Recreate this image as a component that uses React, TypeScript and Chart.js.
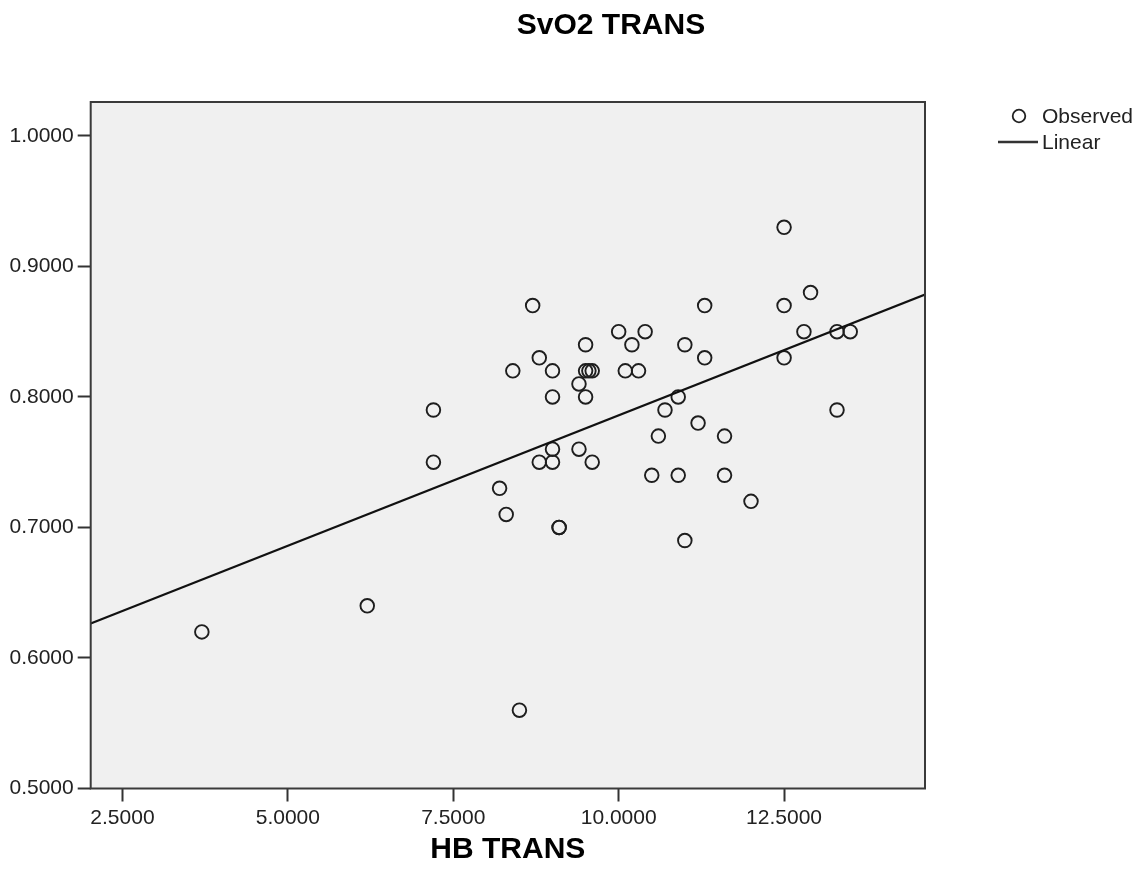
import React, { useEffect, useRef } from "react";
import { Chart, registerables } from "chart.js";

Chart.register(...registerables);

// Observed values (HB TRANS on x, SvO2 TRANS on y)
const hbTrans = [
  3.7, 6.2, 7.2, 7.2, 8.2, 8.3, 8.4, 8.5, 8.7, 8.8, 8.8, 9.0, 9.0, 9.0, 9.0, 9.1, 9.1,
  9.4, 9.4, 9.5, 9.5, 9.55, 9.6, 9.5, 9.6, 10.0, 10.1, 10.2, 10.3, 10.4, 10.5, 10.6,
  10.7, 10.9, 10.9, 11.0, 11.0, 11.2, 11.3, 11.3, 11.6, 11.6, 12.0, 12.5, 12.5, 12.5,
  12.8, 12.9, 13.3, 13.3, 13.5,
];
const svo2Trans = [
  0.62, 0.64, 0.79, 0.75, 0.73, 0.71, 0.82, 0.56, 0.87, 0.83, 0.75, 0.82, 0.80, 0.76,
  0.75, 0.70, 0.70, 0.81, 0.76, 0.84, 0.82, 0.82, 0.82, 0.80, 0.75, 0.85, 0.82, 0.84,
  0.82, 0.85, 0.74, 0.77, 0.79, 0.80, 0.74, 0.84, 0.69, 0.78, 0.87, 0.83, 0.77, 0.74,
  0.72, 0.93, 0.87, 0.83, 0.85, 0.88, 0.85, 0.79, 0.85,
];

// Linear fit line, endpoints read at the plot frame edges
const linearX = [2.02, 14.63];
const linearY = [0.6265, 0.8785];

// Axes
const xRange = [2.02, 14.63];
const yRange = [0.5, 1.026];
const xTicks = [2.5, 5.0, 7.5, 10.0, 12.5];
const yTicks = [0.5, 0.6, 0.7, 0.8, 0.9, 1.0];

const chartTitle = "SvO2 TRANS";
const xAxisTitle = "HB TRANS";
const legendLabels = ["Observed", "Linear"];

const FONT = "'Liberation Sans', Arial, sans-serif";

const framePlugin = {
  id: "spssFrame",
  beforeDraw(chart: any) {
    const { ctx, chartArea: a } = chart;
    ctx.save();
    ctx.fillStyle = "#ffffff";
    ctx.fillRect(0, 0, chart.width, chart.height);
    ctx.fillStyle = "#f0f0f0";
    ctx.fillRect(a.left, a.top, a.right - a.left, a.bottom - a.top);
    ctx.restore();
  },
  afterDraw(chart: any) {
    const { ctx, chartArea: a } = chart;
    ctx.save();
    // frame
    ctx.strokeStyle = "#3a3a3a";
    ctx.lineWidth = 2;
    ctx.strokeRect(a.left, a.top, a.right - a.left, a.bottom - a.top);

    // title
    ctx.fillStyle = "#000000";
    ctx.font = `bold 30px ${FONT}`;
    ctx.textAlign = "center";
    ctx.textBaseline = "alphabetic";
    ctx.fillText(chartTitle, 611, 34);

    // legend
    ctx.font = `21px ${FONT}`;
    ctx.textAlign = "left";
    ctx.textBaseline = "middle";
    ctx.fillStyle = "#222222";
    ctx.strokeStyle = "#222222";
    ctx.lineWidth = 1.8;
    ctx.beginPath();
    ctx.arc(1019, 116, 6.3, 0, Math.PI * 2);
    ctx.stroke();
    ctx.fillText(legendLabels[0], 1042, 117);
    ctx.lineWidth = 2.5;
    ctx.strokeStyle = "#333333";
    ctx.beginPath();
    ctx.moveTo(998, 142);
    ctx.lineTo(1038, 142);
    ctx.stroke();
    ctx.fillText(legendLabels[1], 1042, 143);
    ctx.restore();
  },
};

export default function App() {
  const canvasRef = useRef<HTMLCanvasElement | null>(null);

  useEffect(() => {
    const canvas = canvasRef.current;
    if (!canvas) return;
    const observed = hbTrans.map((x, i) => ({ x, y: svo2Trans[i] }));
    const linear = linearX.map((x, i) => ({ x, y: linearY[i] }));

    const chart = new Chart(canvas, {
      type: "scatter",
      data: {
        datasets: [
          {
            type: "line" as any,
            label: legendLabels[1],
            data: linear,
            borderColor: "#111111",
            borderWidth: 2.2,
            pointRadius: 0,
            fill: false,
            tension: 0,
          },
          {
            label: legendLabels[0],
            data: observed,
            pointStyle: "circle",
            pointRadius: 6.8,
            pointBorderWidth: 1.9,
            borderColor: "#1e1e1e",
            backgroundColor: "rgba(0,0,0,0)",
            pointBackgroundColor: "rgba(0,0,0,0)",
            pointBorderColor: "#1e1e1e",
          },
        ],
      },
      options: {
        responsive: false,
        animation: false,
        devicePixelRatio: 1,
        layout: { padding: { top: 102, right: 221, left: 0, bottom: 0 } },
        plugins: {
          legend: { display: false },
          tooltip: { enabled: false },
          title: { display: false },
        },
        scales: {
          x: {
            type: "linear",
            min: xRange[0],
            max: xRange[1],
            afterBuildTicks: (s: any) => {
              s.ticks = xTicks.map((v) => ({ value: v }));
            },
            afterFit: (s: any) => {
              s.height = 93.5;
            },
            ticks: {
              autoSkip: false,
              maxRotation: 0,
              padding: 4,
              color: "#222222",
              font: { family: FONT, size: 21 },
              callback: (v: any) => Number(v).toFixed(4),
            },
            grid: {
              drawOnChartArea: false,
              drawTicks: true,
              tickLength: 13,
              tickWidth: 2,
              tickColor: "#333333",
            },
            border: { display: false },
            title: {
              display: true,
              text: xAxisTitle,
              color: "#000000",
              font: { family: FONT, size: 30, weight: "bold" },
              padding: { top: 0, bottom: 14 },
            },
          },
          y: {
            type: "linear",
            min: yRange[0],
            max: yRange[1],
            afterBuildTicks: (s: any) => {
              s.ticks = yTicks.map((v) => ({ value: v }));
            },
            afterFit: (s: any) => {
              s.width = 90.7;
            },
            ticks: {
              autoSkip: false,
              padding: 4,
              color: "#222222",
              font: { family: FONT, size: 21 },
              callback: (v: any) => Number(v).toFixed(4),
            },
            grid: {
              drawOnChartArea: false,
              drawTicks: true,
              tickLength: 13,
              tickWidth: 2,
              tickColor: "#333333",
            },
            border: { display: false },
          },
        },
      },
      plugins: [framePlugin],
    });

    return () => {
      chart.destroy();
    };
  }, []);

  return (
    <div style={{ position: "absolute", left: 0, top: 0, width: 1146, height: 882, background: "#fff" }}>
      <canvas ref={canvasRef} width={1146} height={882} style={{ display: "block" }} />
    </div>
  );
}
